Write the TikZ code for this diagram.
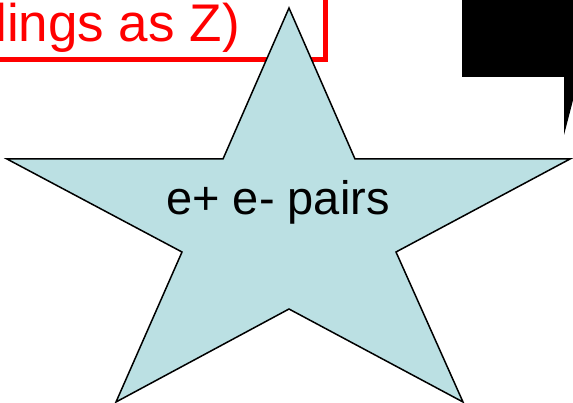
\documentclass[tikz,border=0pt]{standalone}
\usepackage{fontspec}
\setmainfont{Liberation Sans}
\usetikzlibrary{positioning}
\definecolor{starblue}{RGB}{187,224,227}

\begin{document}
\begin{tikzpicture}[x=1pt,y=-1pt,
		starshape/.style={fill=starblue,draw=black,line width=1.5pt,line join=miter},
		rednote/.style={text=red,font=\fontsize{53}{60}\selectfont,anchor=base east,inner sep=0pt},
		starlabel/.style={font=\fontsize{47}{52}\selectfont,anchor=base,inner sep=0pt}]
		\useasboundingbox (0,0) rectangle (573,403);
		\clip (0,0) rectangle (573,403);
		% red note box, cut by the page edge
		\draw[red,line width=5pt] (-20,-20) rectangle (325.5,59.5);
		\node[rednote] (note) at (240,42) {lings as Z)};
		% black callout in the corner
		\fill (462,-10) -- (600,-10) -- (600,77) -- (579,77) -- (564,135) -- (564,77) -- (462,77) -- cycle;
		% the star
		\draw[starshape] (289,8) -- (355,159) -- (570,159) -- (396,252) -- (463,402)
			-- (289,309) -- (116,402) -- (182,252) -- (7,159) -- (223,159) -- cycle;
		\node[starlabel] (pairs) at (278,215) {e+ e- pairs};
	\end{tikzpicture}
\end{document}
